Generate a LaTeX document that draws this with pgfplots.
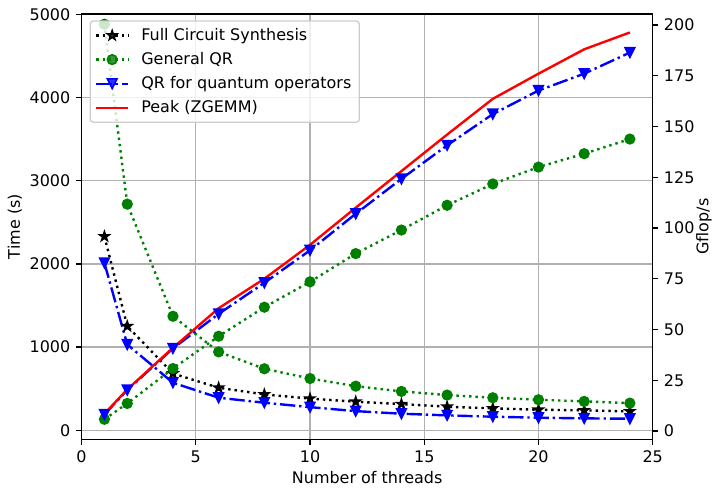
\documentclass[border=0pt]{standalone}
\usepackage{fontspec}
\setmainfont{DejaVu Sans}
\usepackage{pgfplots}
\pgfplotsset{compat=1.18}
\usetikzlibrary{calc}

\definecolor{mplgreen}{RGB}{0,128,0}
\definecolor{gridgray}{RGB}{176,176,176}
\definecolor{legedge}{RGB}{204,204,204}

% filled five-pointed star, like matplotlib's '*'
\pgfdeclareplotmark{fstar}{%
  \pgfpathmoveto{\pgfpointpolar{90}{\pgfplotmarksize}}%
  \pgfpathlineto{\pgfpointpolar{126}{0.382\pgfplotmarksize}}%
  \pgfpathlineto{\pgfpointpolar{162}{\pgfplotmarksize}}%
  \pgfpathlineto{\pgfpointpolar{198}{0.382\pgfplotmarksize}}%
  \pgfpathlineto{\pgfpointpolar{234}{\pgfplotmarksize}}%
  \pgfpathlineto{\pgfpointpolar{270}{0.382\pgfplotmarksize}}%
  \pgfpathlineto{\pgfpointpolar{306}{\pgfplotmarksize}}%
  \pgfpathlineto{\pgfpointpolar{342}{0.382\pgfplotmarksize}}%
  \pgfpathlineto{\pgfpointpolar{18}{\pgfplotmarksize}}%
  \pgfpathlineto{\pgfpointpolar{54}{0.382\pgfplotmarksize}}%
  \pgfpathclose\pgfusepathqfillstroke}
% triangle pointing down, centred on its box like matplotlib's 'v'
\pgfdeclareplotmark{tridown}{%
  \pgfpathmoveto{\pgfpoint{0pt}{-\pgfplotmarksize}}%
  \pgfpathlineto{\pgfpoint{-\pgfplotmarksize}{\pgfplotmarksize}}%
  \pgfpathlineto{\pgfpoint{\pgfplotmarksize}{\pgfplotmarksize}}%
  \pgfpathclose\pgfusepathqfillstroke}

\tikzset{
  mpldot/.style={line width=1.5pt, dash pattern=on 1.5pt off 2.475pt},
  mpldashdot/.style={line width=1.5pt, dash pattern=on 9.6pt off 2.4pt on 1.5pt off 2.4pt},
  mk/.style={mark size=3pt, mark options={solid, line width=1pt}},
}

\pgfplotsset{
  mplbase/.style={
    width=357.5pt, height=266.25pt, scale only axis,
    xmin=0, xmax=25,
    tick align=outside, major tick length=3.5pt,
    every tick/.style={black, line width=0.8pt},
    axis line style={line width=0.8pt},
    tick label style={font=\fontsize{10}{12}\selectfont},
    label style={font=\fontsize{10}{12}\selectfont},
    /pgf/number format/assume math mode=true,
    /pgf/number format/1000 sep={},
    scaled ticks=false,
  },
  legend image code/.code={%
    \draw[mark repeat=2, mark phase=2] plot coordinates {(0pt,0pt) (10pt,0pt) (20pt,0pt)};},
}

\begin{document}
\begin{tikzpicture}
% left axis: run time
\begin{axis}[
  mplbase,
  ymin=-108, ymax=5003,
  xtick={0,5,...,25}, ytick={0,1000,...,5000},
  xtick pos=bottom, ytick pos=left,
  grid=major,
  major grid style={gridgray, line width=0.8pt},
  xlabel={Number of threads},
  ylabel={Time (s)},
  xlabel style={at={(axis description cs:0.5,-0.089)}, anchor=center},
  ylabel style={at={(axis description cs:-0.1166,0.5)}, anchor=center, rotate=0},
]
\addplot[black, mpldot, mark=fstar, mk] coordinates {
  (1,2330) (2,1251) (4,683) (6,512) (8,432) (10,382) (12,344)
  (14,316) (16,284) (18,264) (20,248) (22,240) (24,228)
};
\addplot[mplgreen, mpldot, mark=*, mk] coordinates {
  (1,4880) (2,2718) (4,1371) (6,943) (8,740) (10,623) (12,531)
  (14,468) (16,424) (18,392) (20,368) (22,348) (24,327)
};
\addplot[blue, mpldashdot, mark=tridown, mk] coordinates {
  (1,2011) (2,1031) (4,572) (6,392) (8,332) (10,279) (12,231)
  (14,200) (16,180) (18,164) (20,152) (22,144) (24,140)
};
\end{axis}

% right axis: performance
\begin{axis}[
  mplbase,
  axis x line=none, axis y line*=right,
  ymin=-4.08, ymax=205.4,
  ytick={0,25,...,200},
  ylabel={Gflop/s},
  ylabel style={at={(axis description cs:1.0897,0.5)}, anchor=center},
  legend cell align=left,
  legend style={at={(0,1)}, anchor=north west, xshift=5pt, yshift=-4pt,
    draw=legedge, line width=0.8pt, fill=white, fill opacity=0.8,
    draw opacity=1, text opacity=1, rounded corners=2pt,
    font=\fontsize{10}{12}\selectfont, row sep=2pt, column sep=5.5pt,
    inner xsep=3pt, inner ysep=2.5pt},
]
\addlegendimage{black, mpldot, mark=fstar, mk}
\addlegendentry{Full Circuit Synthesis}
\addlegendimage{mplgreen, mpldot, mark=*, mk}
\addlegendentry{General QR}
\addlegendimage{blue, mpldashdot, mark=tridown, mk}
\addlegendentry{QR for quantum operators}

\addplot[mplgreen, mpldot, mark=*, mk, forget plot] coordinates {
  (1,5.8) (2,13.6) (4,30.8) (6,46.7) (8,61) (10,73.5) (12,87.4)
  (14,99) (16,111.2) (18,121.7) (20,130) (22,136.6) (24,143.8)
};
\addplot[blue, mpldashdot, mark=tridown, mk, forget plot] coordinates {
  (1,8.2) (2,20.2) (4,40.7) (6,57.7) (8,73) (10,89) (12,107)
  (14,124.2) (16,140.7) (18,156.1) (20,167.7) (22,176) (24,186.4)
};
\addplot[red, line width=1.5pt] coordinates {
  (1,8.5) (2,20.5) (4,41) (6,60.5) (8,75) (10,91.7) (12,110)
  (14,128) (16,146) (18,163.6) (20,176) (22,188) (24,196.3)
};
\addlegendentry{Peak (ZGEMM)}
\end{axis}

\path[use as bounding box] ($(current axis.south west)+(-51.06pt,-29.4pt)$)
  rectangle ($(current axis.north east)+(39.4pt,8.75pt)$);
\end{tikzpicture}
\end{document}
